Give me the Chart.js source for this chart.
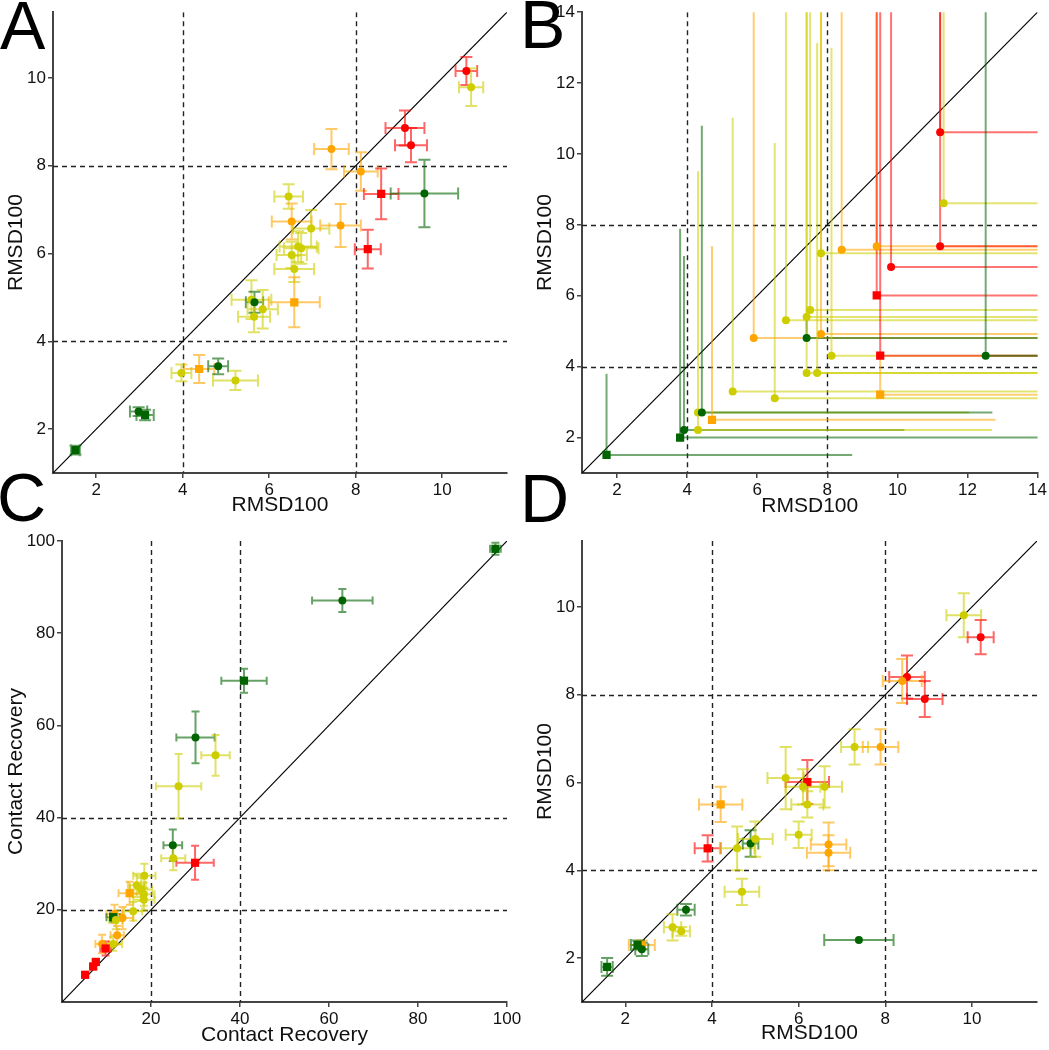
<!DOCTYPE html>
<html>
<head>
<meta charset="utf-8">
<script src="https://cdn.jsdelivr.net/npm/chart.js@4.4.1/dist/chart.umd.min.js"></script>
<style>
  body { margin: 0; background: #fff; }
  #wrap { position: relative; width: 1049px; height: 1050px; overflow: hidden; background: #fff; }
  #wrap canvas { position: absolute; }
  .tag { position: absolute; font-family: 'Liberation Sans', Arial, sans-serif; font-size: 68px; line-height: 1; color: #000; z-index: 5; }
</style>
</head>
<body>
<div id="wrap">
  <canvas id="panelA" width="525" height="525" style="left:0;top:0"></canvas>
  <canvas id="panelB" width="524" height="525" style="left:525px;top:0"></canvas>
  <canvas id="panelC" width="525" height="525" style="left:0;top:525px"></canvas>
  <canvas id="panelD" width="524" height="525" style="left:525px;top:525px"></canvas>
  <div class="tag" style="left:0;top:-9px">A</div>
  <div class="tag" style="left:520px;top:-10px">B</div>
  <div class="tag" style="left:-3px;top:463px">C</div>
  <div class="tag" style="left:520px;top:464px">D</div>
</div>
<script>
// group: 0 red, 1 orange, 2 yellow, 3 green ; shape: 0 circle, 1 square

// --- Panel A: RMSD100 vs RMSD100 ---
const aX     = [10.56, 10.67, 9.14, 9.28, 7.44, 8.12, 8.59, 9.59, 6.45, 6.52, 6.97, 7.65, 8.28, 6.67, 6.74, 6.52, 6.58, 6.58, 5.59, 5.66, 5.85, 5.65, 3.97, 4.38, 4.82, 5.22, 2.98, 3.13, 1.52];
const aY     = [10.16, 9.79, 8.86, 8.47, 8.38, 7.87, 7.36, 7.37, 7.30, 6.73, 6.57, 6.64, 6.10, 6.16, 6.12, 5.97, 5.65, 4.89, 4.95, 4.89, 4.73, 4.56, 3.28, 3.37, 3.43, 3.11, 2.40, 2.32, 1.52];
const aXErr  = [0.25, 0.28, 0.45, 0.37, 0.40, 0.39, 0.40, 0.78, 0.33, 0.46, 0.42, 0.47, 0.30, 0.43, 0.40, 0.35, 0.46, 0.59, 0.46, 0.20, 0.35, 0.37, 0.23, 0.35, 0.23, 0.52, 0.20, 0.20, 0.10];
const aYErr  = [0.32, 0.43, 0.40, 0.39, 0.46, 0.44, 0.58, 0.77, 0.28, 0.41, 0.42, 0.49, 0.44, 0.35, 0.35, 0.30, 0.30, 0.57, 0.44, 0.24, 0.44, 0.35, 0.19, 0.32, 0.18, 0.22, 0.10, 0.12, 0.10];
const aGroup = [0, 2, 0, 0, 1, 1, 0, 3, 2, 1, 2, 1, 0, 2, 2, 2, 2, 1, 2, 3, 2, 2, 2, 1, 3, 2, 3, 3, 3];
const aShape = [0, 0, 0, 0, 0, 0, 1, 0, 0, 0, 0, 0, 1, 0, 0, 0, 0, 1, 0, 0, 0, 0, 0, 1, 0, 0, 0, 1, 1];
const aTicks = [2, 4, 6, 8, 10];

// --- Panel B: points with drop lines to the upper value ---
const bX     = [1.70, 3.80, 3.91, 4.31, 4.42, 4.71, 4.31, 5.30, 6.50, 5.90, 6.82, 7.41, 7.51, 7.41, 7.41, 7.71, 7.82, 7.82, 8.12, 8.41, 9.41, 9.41, 9.51, 9.51, 9.82, 11.22, 11.22, 11.32, 12.52];
const bY     = [1.51, 2.00, 2.21, 2.71, 2.71, 2.50, 2.21, 3.30, 3.11, 4.81, 5.31, 5.40, 5.60, 4.81, 3.82, 3.82, 4.92, 7.20, 4.31, 7.30, 7.40, 6.01, 4.31, 3.21, 6.81, 10.61, 7.40, 8.61, 4.31];
const bXEnd  = [8.71, 15, 10.2, 12.05, 12.71, 12.8, 12.7, 15, 15, 15, 15, 15, 15, 15, 15, 15, 15, 15, 15, 15, 15, 15, 15, 15, 15, 15, 15, 15, 15];
const bYEnd  = [3.80, 7.89, 7.12, 9.51, 10.80, 7.40, 2.71, 11.02, 10.31, 15, 15, 15, 15, 5.40, 15, 13.13, 15, 15, 13.0, 15, 15, 15, 15, 4.31, 15, 15, 15, 15, 15];
const bGroup = [3, 3, 3, 2, 3, 1, 2, 2, 2, 1, 2, 2, 2, 3, 2, 2, 1, 2, 2, 1, 1, 0, 0, 1, 0, 0, 0, 2, 3];
const bShape = [1, 1, 0, 0, 0, 1, 0, 0, 0, 0, 0, 0, 0, 0, 0, 0, 0, 0, 0, 0, 0, 1, 1, 1, 0, 0, 0, 0, 0];
const bTicks = [2, 4, 6, 8, 10, 12, 14];

// --- Panel C: Contact Recovery ---
const cX     = [97.4, 63.0, 40.9, 30.0, 34.5, 26.2, 24.9, 25.0, 29.9, 18.5, 16.8, 17.8, 18.4, 18.4, 15.2, 16.0, 11.8, 11.5, 13.6, 12.1, 12.4, 9.0, 11.5, 9.8, 7.6, 7.0, 5.2];
const cY     = [98.3, 87.1, 69.7, 57.4, 53.5, 46.8, 34.0, 31.2, 30.2, 27.4, 25.3, 24.4, 23.4, 22.2, 23.6, 19.7, 19.1, 18.4, 18.2, 17.8, 14.5, 12.6, 12.6, 11.6, 8.7, 7.7, 5.9];
const cXErr  = [1.2, 6.8, 5.1, 4.3, 3.2, 5.1, 2.1, 2.7, 4.2, 2.5, 2.0, 2.5, 2.4, 2.4, 2.5, 2.0, 1.8, 1.5, 2.4, 1.5, 1.5, 1.5, 2.0, 1.2, 0.5, 0.5, 0.4];
const cYErr  = [1.3, 2.5, 2.6, 5.6, 4.4, 7.0, 3.4, 2.6, 3.7, 2.6, 2.5, 2.5, 2.5, 2.4, 2.5, 2.0, 2.0, 1.0, 2.4, 2.0, 2.0, 2.0, 1.5, 1.5, 0.5, 0.5, 0.4];
const cGroup = [3, 3, 3, 3, 2, 2, 3, 2, 0, 2, 2, 2, 2, 2, 1, 2, 1, 3, 1, 2, 1, 1, 2, 0, 0, 0, 0];
const cShape = [1, 0, 1, 0, 0, 0, 0, 0, 1, 0, 0, 0, 0, 0, 1, 0, 0, 1, 0, 0, 0, 0, 0, 1, 1, 1, 1];
const cTicks = [20, 40, 60, 80, 100];

// --- Panel D: RMSD100 vs RMSD100 ---
const dX     = [9.81, 10.20, 8.50, 8.39, 8.91, 7.29, 7.89, 5.70, 6.20, 6.10, 6.60, 6.20, 4.20, 6.00, 6.69, 6.69, 3.90, 4.58, 4.89, 5.00, 4.69, 3.40, 3.09, 3.29, 7.39, 2.38, 2.28, 2.38, 1.58];
const dY     = [9.81, 9.31, 8.40, 8.31, 7.90, 6.81, 6.81, 6.10, 6.01, 5.90, 5.90, 5.50, 5.50, 4.81, 4.59, 4.40, 4.50, 4.50, 4.61, 4.71, 3.51, 3.10, 2.70, 2.61, 2.41, 2.30, 2.30, 2.20, 1.80];
const dXErr  = [0.40, 0.30, 0.41, 0.45, 0.41, 0.31, 0.41, 0.42, 0.50, 0.40, 0.40, 0.37, 0.50, 0.30, 0.41, 0.50, 0.30, 0.40, 0.18, 0.40, 0.40, 0.20, 0.20, 0.20, 0.80, 0.30, 0.15, 0.15, 0.13];
const dYErr  = [0.50, 0.39, 0.49, 0.50, 0.41, 0.40, 0.40, 0.71, 0.50, 0.40, 0.47, 0.30, 0.40, 0.30, 0.50, 0.40, 0.30, 0.50, 0.30, 0.40, 0.30, 0.13, 0.30, 0.10, 0.00, 0.10, 0.10, 0.15, 0.20];
const dGroup = [2, 0, 0, 1, 0, 2, 1, 2, 0, 2, 2, 2, 1, 2, 1, 1, 0, 2, 3, 2, 2, 3, 2, 2, 3, 1, 3, 3, 3];
const dShape = [0, 0, 0, 0, 0, 0, 0, 0, 1, 0, 0, 0, 1, 0, 0, 0, 1, 0, 0, 0, 0, 0, 0, 0, 0, 1, 1, 0, 1];

const rmsdCuts = [4, 8];
const contactCuts = [20, 40];

const palette = ['#ff0000', '#ffa500', '#cdcd00', '#006400'];
const fontFamily = "'Liberation Sans', Arial, sans-serif";

function fade(hex, a) {
    const n = parseInt(hex.slice(1), 16);
    return `rgba(${n >> 16}, ${(n >> 8) & 255}, ${n & 255}, ${a})`;
}

function axis(min, max, ticks, title, size, horizontal, titleOffset) {
    return {
        type: 'linear',
        min: min,
        max: max,
        afterBuildTicks: s => { s.ticks = ticks.map(v => ({ value: v })); },
        afterFit: s => { if (horizontal) s.height = size; else s.width = size; },
        grid: { display: true, drawOnChartArea: false, drawTicks: true, tickLength: 5, color: '#444', lineWidth: 1.5 },
        border: { display: true, color: '#444', width: 2 },
        ticks: { color: '#111', font: { family: fontFamily, size: 17 }, padding: 2, autoSkip: false, maxRotation: 0 },
        title: {
            display: true, text: title, color: '#111',
            font: { family: fontFamily, size: 21 },
            padding: horizontal ? { top: 0, bottom: titleOffset - 12.6 } : { top: titleOffset - 12.6, bottom: 0 }
        }
    };
}

// dashed cut-off lines, the y = x diagonal and the per-point marks (error bars / drop lines)
function guides(cuts, drawMarks) {
    return {
        id: 'guides',
        beforeDatasetsDraw(chart) {
            const { ctx, chartArea: a, scales: { x, y } } = chart;
            ctx.save();
            ctx.beginPath();
            ctx.rect(a.left, a.top, a.right - a.left, a.bottom - a.top);
            ctx.clip();

            ctx.strokeStyle = '#222';
            ctx.lineWidth = 1.4;
            ctx.setLineDash([5, 4]);
            cuts.forEach(v => {
                const px = Math.round(x.getPixelForValue(v)) + 0.5;
                const py = Math.round(y.getPixelForValue(v)) + 0.5;
                ctx.beginPath(); ctx.moveTo(px, a.top); ctx.lineTo(px, a.bottom); ctx.stroke();
                ctx.beginPath(); ctx.moveTo(a.left, py); ctx.lineTo(a.right, py); ctx.stroke();
            });
            ctx.setLineDash([]);

            ctx.strokeStyle = '#000';
            ctx.lineWidth = 1.2;
            ctx.beginPath();
            ctx.moveTo(x.getPixelForValue(x.min), y.getPixelForValue(y.min));
            ctx.lineTo(x.getPixelForValue(x.max), y.getPixelForValue(y.max));
            ctx.stroke();

            drawMarks(ctx, x, y);
            ctx.restore();
        }
    };
}

function errorBars(xs, ys, xe, ye, groups, cap) {
    return (ctx, x, y) => {
        ctx.lineWidth = 2;
        xs.forEach((v, i) => {
            ctx.strokeStyle = fade(palette[groups[i]], 0.6);
            const px = x.getPixelForValue(v), py = y.getPixelForValue(ys[i]);
            const x0 = x.getPixelForValue(v - xe[i]), x1 = x.getPixelForValue(v + xe[i]);
            const y0 = y.getPixelForValue(ys[i] - ye[i]), y1 = y.getPixelForValue(ys[i] + ye[i]);
            ctx.beginPath();
            if (xe[i] > 0) {
                ctx.moveTo(x0, py); ctx.lineTo(x1, py);
                ctx.moveTo(x0, py - cap); ctx.lineTo(x0, py + cap);
                ctx.moveTo(x1, py - cap); ctx.lineTo(x1, py + cap);
            }
            if (ye[i] > 0) {
                ctx.moveTo(px, y0); ctx.lineTo(px, y1);
                ctx.moveTo(px - cap, y0); ctx.lineTo(px + cap, y0);
                ctx.moveTo(px - cap, y1); ctx.lineTo(px + cap, y1);
            }
            ctx.stroke();
        });
    };
}

function dropLines(xs, ys, xEnd, yEnd, groups) {
    return (ctx, x, y) => {
        ctx.lineWidth = 2;
        xs.forEach((v, i) => {
            ctx.strokeStyle = fade(palette[groups[i]], 0.55);
            const px = x.getPixelForValue(v), py = y.getPixelForValue(ys[i]);
            ctx.beginPath();
            ctx.moveTo(px, py); ctx.lineTo(px, y.getPixelForValue(yEnd[i]));
            ctx.moveTo(px, py); ctx.lineTo(x.getPixelForValue(xEnd[i]), py);
            ctx.stroke();
        });
    };
}

function drawPanel(id, xs, ys, groups, shapes, setup) {
    const ctx = document.getElementById(id).getContext('2d');
    return new Chart(ctx, {
        type: 'scatter',
        data: {
            datasets: [{
                data: xs.map((v, i) => ({ x: v, y: ys[i] })),
                pointStyle: shapes.map(s => s ? 'rect' : 'circle'),
                pointRadius: shapes.map(s => s ? 5.8 : 4),
                pointBackgroundColor: groups.map(g => palette[g]),
                pointBorderWidth: 0,
                showLine: false
            }]
        },
        options: {
            responsive: false,
            animation: false,
            events: [],
            layout: { padding: setup.padding },
            plugins: { legend: { display: false }, tooltip: { enabled: false } },
            scales: { x: setup.x, y: setup.y }
        },
        plugins: [guides(setup.cuts, setup.marks)]
    });
}

drawPanel('panelA', aX, aY, aGroup, aShape, {
    padding: { top: 12, right: 18, left: 0, bottom: 0 },
    x: axis(1, 11.5, aTicks, 'RMSD100', 52, true, 20),
    y: axis(1, 11.5, aTicks, 'RMSD100', 53, false, 16),
    cuts: rmsdCuts,
    marks: errorBars(aX, aY, aXErr, aYErr, aGroup, 6)
});

drawPanel('panelB', bX, bY, bGroup, bShape, {
    padding: { top: 12, right: 11, left: 0, bottom: 0 },
    x: axis(1, 14, bTicks, 'RMSD100', 52, true, 19),
    y: axis(1, 14, bTicks, 'RMSD100', 57, false, 20),
    cuts: rmsdCuts,
    marks: dropLines(bX, bY, bXEnd, bYEnd, bGroup)
});

drawPanel('panelC', cX, cY, cGroup, cShape, {
    padding: { top: 16, right: 18, left: 0, bottom: 0 },
    x: axis(0, 100, cTicks, 'Contact Recovery', 48, true, 15),
    y: axis(0, 100, cTicks, 'Contact Recovery', 62, false, 16),
    cuts: contactCuts,
    marks: errorBars(cX, cY, cXErr, cYErr, cGroup, 4)
});

drawPanel('panelD', dX, dY, dGroup, dShape, {
    padding: { top: 16, right: 12, left: 0, bottom: 0 },
    x: axis(1, 11.5, aTicks, 'RMSD100', 48, true, 17),
    y: axis(1, 11.5, aTicks, 'RMSD100', 57, false, 20),
    cuts: rmsdCuts,
    marks: errorBars(dX, dY, dXErr, dYErr, dGroup, 6)
});
</script>
</body>
</html>
